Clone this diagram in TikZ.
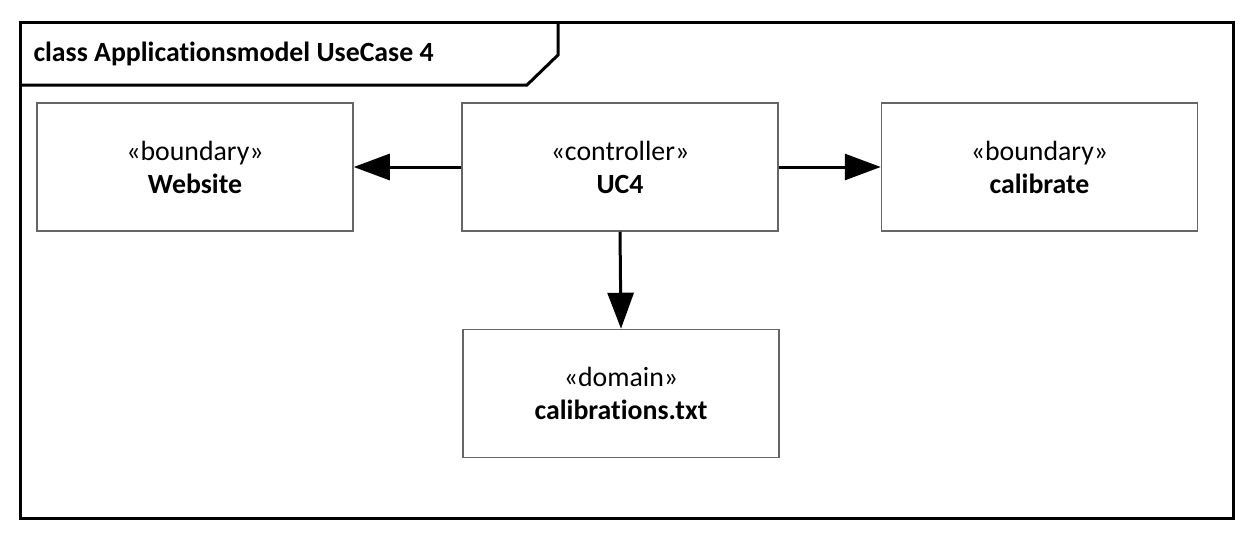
\documentclass[tikz,border=0pt]{standalone}
\usepackage{fontspec}
\setmainfont{Carlito}[Ligatures=NoCommon]
\usetikzlibrary{arrows.meta}

\begin{document}
\begin{tikzpicture}[x=1pt,y=-1pt,
    classbox/.style={draw=black!60,line width=1.5pt,fill=white,minimum width=316pt,minimum height=128pt,align=center,inner sep=0pt,font=\fontsize{27.8}{33}\selectfont},
    dep/.style={line width=3pt,-{Triangle[length=36pt,width=26pt]}}]
    \useasboundingbox (0,0) rectangle (1256,546);
    % Rahmen mit Titel
    \draw[line width=3pt] (20,22) rectangle (1233,518);
    \draw[line width=3pt] (20,85) -- (527,85) -- (558,55) -- (558,22);
    \node[anchor=west,font=\fontsize{27.8}{33}\selectfont\bfseries] (titel) at (30,54) {class Applicationsmodel UseCase 4};
    % Klassen
    \node[classbox] (website) at (195,167) {«boundary»\\\textbf{Website}};
    \node[classbox] (uc4) at (620,167) {«controller»\\\textbf{UC4}};
    \node[classbox] (calibrate) at (1039.5,167) {«boundary»\\\textbf{calibrate}};
    \node[classbox] (calib) at (621,393.5) {«domain»\\\textbf{calibrations.txt}};
    % Abhaengigkeiten
    \draw[dep] (uc4.west) -- (website.east);
    \draw[dep] (uc4.east) -- (calibrate.west);
    \draw[dep] (uc4.south) -- (calib.north);
\end{tikzpicture}
\end{document}
